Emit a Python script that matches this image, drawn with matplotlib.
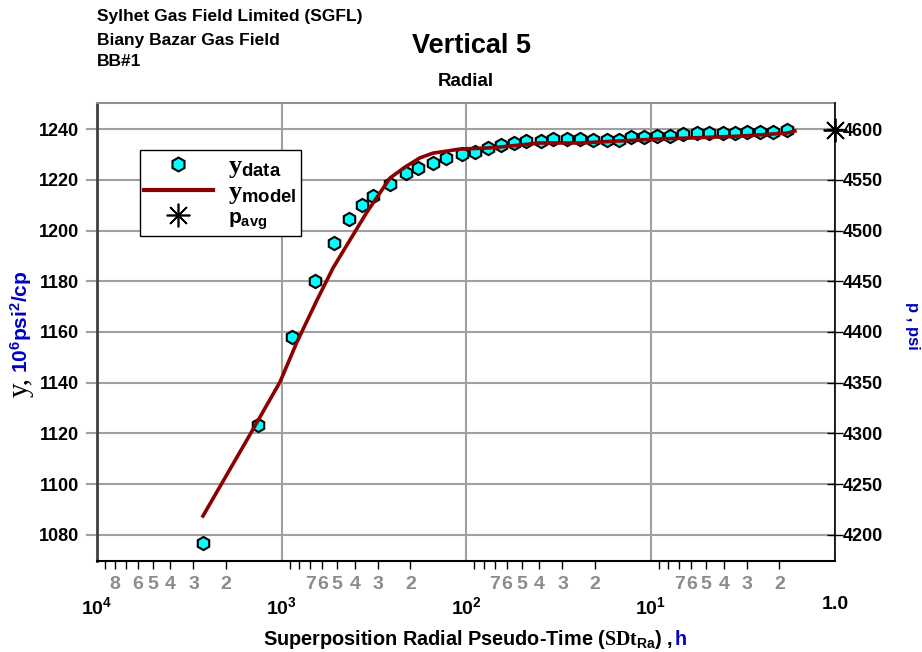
import matplotlib
matplotlib.use('Agg')
import matplotlib.pyplot as plt
from matplotlib.ticker import FixedLocator, FixedFormatter
from matplotlib.lines import Line2D

# ---------------- data ----------------
t_data = [2665, 1341, 877, 658, 519, 431, 366, 319, 258, 212, 182, 151, 128, 105,
          89.4, 76.0, 64.6, 54.9, 47.3, 39.2, 33.8, 28.4, 24.1, 20.5, 17.2, 14.8,
          12.8, 10.8, 9.22, 7.84, 6.66, 5.60, 4.82, 4.05, 3.48, 3.00, 2.55, 2.17, 1.82]
y_data = [1076.8, 1123.4, 1158.0, 1180.1, 1195.1, 1204.5, 1210.0, 1213.6, 1218.3,
          1222.7, 1224.6, 1226.6, 1228.6, 1230.1, 1230.9, 1232.5, 1233.7, 1234.5,
          1235.3, 1235.3, 1236.1, 1236.1, 1236.1, 1235.7, 1235.7, 1235.7, 1236.8,
          1236.8, 1237.2, 1237.2, 1238.0, 1238.4, 1238.4, 1238.4, 1238.4, 1238.8,
          1238.8, 1238.8, 1239.6]
t_model = [2665, 1519, 1019, 824, 642, 526, 425, 344, 258, 214, 178, 151, 127,
           108, 76.9, 65.4, 39.7, 24.1, 14.6, 8.88, 5.88, 3.27, 1.82, 1.65]
y_model = [1087.5, 1118.2, 1140.3, 1156.1, 1172.6, 1185.2, 1196.3, 1207.3,
           1220.7, 1225.0, 1228.6, 1230.5, 1231.3, 1232.1, 1232.5, 1232.9, 1234.5,
           1234.5, 1235.3, 1236.1, 1236.5, 1237.2, 1238.4, 1239.2]
t_pavg = [1.0]
p_pavg = [4599]

left_ticks = [1080, 1100, 1120, 1140, 1160, 1180, 1200, 1220, 1240]
right_ticks = [4200, 4250, 4300, 4350, 4400, 4450, 4500, 4550, 4600]
major_x = [1e4, 1e3, 1e2, 1e1, 1.0]
major_x_labels = [r'$\mathbf{10^{4}}$', r'$\mathbf{10^{3}}$', r'$\mathbf{10^{2}}$',
                  r'$\mathbf{10^{1}}$', '1.0']
first_decade_labels = {9: '', 8: '8', 7: '', 6: '6', 5: '5', 4: '4', 3: '3', 2: '2'}
other_decade_labels = {9: '', 8: '', 7: '7', 6: '6', 5: '5', 4: '4', 3: '3', 2: '2'}

# ---------------- style ----------------
plt.rcParams['font.family'] = ['Liberation Sans', 'DejaVu Sans']
plt.rcParams['font.weight'] = 'bold'
plt.rcParams['mathtext.fontset'] = 'custom'
plt.rcParams['mathtext.rm'] = 'Liberation Serif'
plt.rcParams['mathtext.it'] = 'Liberation Serif:italic'
plt.rcParams['mathtext.bf'] = 'Liberation Sans:bold'

W, H = 922, 652
fig = plt.figure(figsize=(W / 100, H / 100), dpi=100)
L, R, T, B = 97, 835, 103, 561
ax = fig.add_axes([L / W, 1 - B / H, (R - L) / W, (B - T) / H])

ax.set_xscale('log')
ax.set_xlim(1e4, 1.0)
ylo, yhi = 1069.75, 1250.25
ax.set_ylim(ylo, yhi)

grid_c = '#a0a0a0'
ax.xaxis.set_major_locator(FixedLocator(major_x))
ax.xaxis.set_major_formatter(FixedFormatter(major_x_labels))
minor_pos, minor_lab = [], []
for dec in [1e3, 1e2, 1e1, 1e0]:
    labs = first_decade_labels if dec == 1e3 else other_decade_labels
    for m in range(2, 10):
        minor_pos.append(m * dec)
        minor_lab.append(labs[m])
ax.xaxis.set_minor_locator(FixedLocator(minor_pos))
ax.xaxis.set_minor_formatter(FixedFormatter(minor_lab))
ax.tick_params(axis='x', which='major', length=0, pad=25, labelsize=14, labelcolor='black')
ax.tick_params(axis='x', which='minor', length=6, width=1, color='black', pad=5,
               labelsize=14, labelcolor='#8c8c8c')
ax.set_yticks(left_ticks)
ax.tick_params(axis='y', which='major', length=8, width=1.5, color=grid_c, pad=5,
               labelsize=13, labelcolor='black')
ax.grid(True, which='major', color=grid_c, linewidth=1.5)
ax.set_axisbelow(True)

ax.spines['top'].set_color('#909090')
ax.spines['top'].set_linewidth(1.5)
ax.spines['left'].set_color('#404040')
ax.spines['left'].set_linewidth(2)
ax.spines['bottom'].set_color('black')
ax.spines['bottom'].set_linewidth(1.5)
ax.spines['right'].set_visible(False)

ax.plot(t_data, y_data, linestyle='none', marker='h', markersize=9.5,
        markerfacecolor='#00ffff', markeredgecolor='black', markeredgewidth=1.5, zorder=3)
ax.plot(t_model, y_model, color='#8b0000', linewidth=2.6, zorder=4)

ax2 = ax.twinx()
ax2.set_ylim(4200 + (ylo - 1080) * 2.5, 4200 + (yhi - 1080) * 2.5)
ax2.set_yticks(right_ticks)
ax2.tick_params(axis='y', direction='inout', length=11, width=1, color='black', pad=0,
                labelsize=13, labelcolor='black')
for s in ['top', 'left', 'bottom']:
    ax2.spines[s].set_visible(False)
ax2.spines['right'].set_color('black')
ax2.spines['right'].set_linewidth(1.2)
star = (8, 2, 0)
ax2.plot(t_pavg, p_pavg, linestyle='none', marker=star, markersize=17,
         color='black', markeredgewidth=1.3, clip_on=False, zorder=5)

# legend
h1 = Line2D([], [], linestyle='none', marker='h', markersize=10, markerfacecolor='#00ffff',
            markeredgecolor='black', markeredgewidth=1.5)
h2 = Line2D([], [], color='#8b0000', linewidth=3)
h3 = Line2D([], [], linestyle='none', marker=star, markersize=17, color='black',
            markeredgewidth=1.2)
leg = ax2.legend([h1, h2, h3],
                 [r'$\mathrm{y}_{\mathbf{data}}$', r'$\mathrm{y}_{\mathbf{model}}$',
                  r'$\mathbf{p}_{\mathbf{avg}}$'],
                 loc='upper left', bbox_to_anchor=(140 / W, 1 - 150 / H),
                 bbox_transform=fig.transFigure, fontsize=19, frameon=True,
                 fancybox=False, edgecolor='black', framealpha=1, borderpad=0.15,
                 labelspacing=0.0, handlelength=2.6, handletextpad=0.6,
                 borderaxespad=0)
leg.get_frame().set_linewidth(1.0)
leg.get_texts()[2].set_fontsize(15)

# header texts
fig.text(97 / W, 1 - 17 / H, 'Sylhet Gas Field Limited (SGFL)', fontsize=12.5,
         fontweight='bold', va='center', ha='left')
fig.text(97 / W, 1 - 40 / H, 'Biany Bazar Gas Field', fontsize=12.5,
         fontweight='bold', va='center', ha='left')
fig.text(97 / W, 1 - 62 / H, 'BB#1', fontsize=12.5, fontweight='bold', va='center', ha='left')
fig.text(471 / W, 1 - 46 / H, 'Vertical 5', fontsize=19.5, fontweight='bold',
         va='center', ha='center')
fig.text(466 / W, 1 - 82 / H, 'Radial', fontsize=13.5, fontweight='bold',
         va='center', ha='center')

blue = '#0000c8'
renderer = fig.canvas.get_renderer()

# x label (black part + blue unit)
xb = fig.text(263 / W, 1 - 645 / H,
              r'Superposition Radial Pseudo-Time ($\mathrm{SDt}_{\mathbf{Ra}}$) , ',
              fontsize=14.3, fontweight='bold', color='black', ha='left', va='baseline')
ext = xb.get_window_extent(renderer=renderer)
fig.text(ext.x1 / W, 1 - 645 / H, 'h', fontsize=14.3, fontweight='bold', color=blue,
         ha='left', va='baseline')

# left y label
yb = fig.text(28 / W, 1 - 397 / H, 'y,', fontsize=21, family='Liberation Serif',
              fontweight='normal', color='black', rotation=90, rotation_mode='anchor',
              ha='left', va='baseline')
ext = yb.get_window_extent(renderer=renderer)
fig.text(28 / W, (ext.y1 + 4) / H, r'$\mathbf{10^{6}psi^{2}/cp}$', fontsize=15,
         color=blue, rotation=90, rotation_mode='anchor', ha='left', va='baseline')

# right y label
fig.text(912 / W, 1 - 326 / H, 'p , psi', fontsize=12, fontweight='bold', color=blue,
         rotation=270, ha='center', va='center')

fig.savefig('out.png', dpi=100)
